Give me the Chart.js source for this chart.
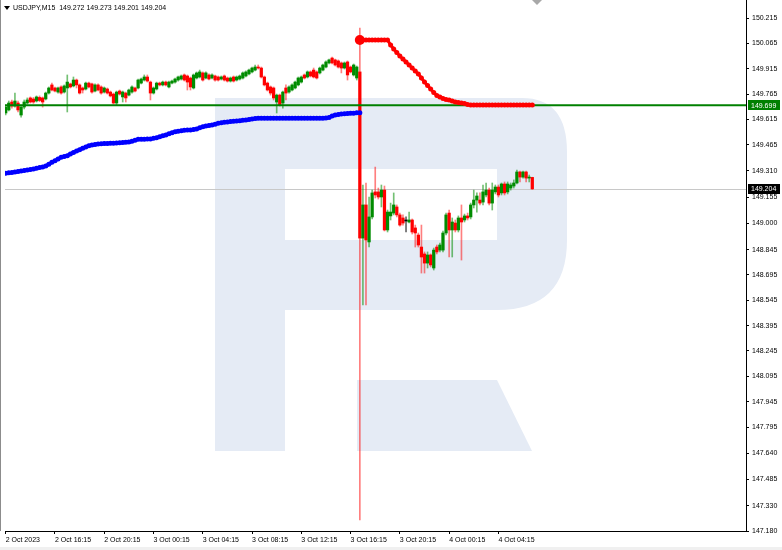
<!DOCTYPE html>
<html>
<head>
<meta charset="utf-8">
<title>USDJPY M15</title>
<script src="https://cdn.jsdelivr.net/npm/chart.js@4.4.1/dist/chart.umd.min.js"></script>
<style>
  html, body { margin: 0; padding: 0; background: #fff; }
  #wrap { position: relative; width: 782px; height: 550px; }
</style>
</head>
<body>
<div id="wrap"><canvas id="chartCanvas" width="782" height="550"></canvas></div>
<script>
const symbolTitle = 'USDJPY,M15';
const lastBarText = '149.272 149.273 149.201 149.204';

// M15 bars, index 0 = 2 Oct 12:15
const opens = [
  149.653,149.671,149.718,149.694,149.712,149.641,149.688,149.712,149.742,149.736,
  149.724,149.745,149.742,149.736,149.771,149.819,149.801,149.777,149.807,149.777,
  149.801,149.825,149.813,149.848,149.819,149.801,149.795,149.830,149.825,149.783,
  149.819,149.807,149.777,149.795,149.777,149.765,149.712,149.783,149.748,149.771,
  149.759,149.777,149.801,149.801,149.830,149.848,149.866,149.836,149.771,149.795,
  149.830,149.819,149.836,149.807,149.830,149.836,149.848,149.854,149.878,149.872,
  149.860,149.801,149.860,149.866,149.890,149.860,149.878,149.860,149.872,149.866,
  149.854,149.872,149.860,149.842,149.866,149.848,149.854,149.860,149.872,149.884,
  149.896,149.907,149.925,149.919,149.866,149.830,149.807,149.801,149.718,149.759,
  149.712,149.801,149.777,149.789,149.801,149.819,149.836,149.878,149.866,149.896,
  149.907,149.896,149.890,149.907,149.925,149.949,149.978,149.967,149.961,149.949,
  149.919,149.955,149.925,149.878,149.860,149.896,
  148.913,149.109,148.890,149.038,149.186,149.186,149.156,149.197,148.961,149.044,
  149.061,149.097,149.050,149.032,149.014,149.008,149.020,148.973,148.931,148.860,
  148.819,148.765,148.813,148.736,148.860,148.842,148.842,148.943,149.061,148.961,
  149.002,148.961,149.032,149.020,149.044,149.038,149.109,149.138,149.138,149.126,
  149.168,149.197,149.120,149.186,149.215,149.180,149.233,149.186,149.209,149.221,
  149.239,149.304,149.274,149.304,149.268,149.272
];
const highs = [
  149.700,149.724,149.730,149.771,149.724,149.700,149.730,149.742,149.748,149.745,
  149.754,149.754,149.748,149.777,149.807,149.830,149.807,149.807,149.813,149.819,
  149.878,149.830,149.866,149.854,149.825,149.807,149.836,149.836,149.830,149.825,
  149.825,149.813,149.807,149.801,149.783,149.771,149.783,149.789,149.783,149.777,
  149.795,149.813,149.807,149.854,149.860,149.878,149.878,149.842,149.807,149.836,
  149.836,149.842,149.842,149.842,149.848,149.860,149.872,149.878,149.884,149.878,
  149.866,149.884,149.896,149.907,149.896,149.896,149.884,149.884,149.878,149.872,
  149.872,149.878,149.866,149.866,149.872,149.872,149.878,149.896,149.902,149.913,
  149.925,149.937,149.937,149.925,149.872,149.836,149.813,149.807,149.765,149.765,
  149.783,149.819,149.813,149.825,149.842,149.866,149.872,149.884,149.902,149.902,
  149.919,149.902,149.925,149.943,149.961,149.972,149.984,149.972,149.967,149.955,
  149.955,149.961,149.931,149.943,149.931,150.156,
  149.227,149.239,149.156,149.197,149.333,149.209,149.227,149.221,149.079,149.120,
  149.180,149.109,149.061,149.050,149.038,149.067,149.026,148.990,148.943,148.990,
  148.831,148.831,148.819,148.854,148.872,148.884,148.955,149.061,149.079,149.032,
  149.020,149.044,149.109,149.055,149.061,149.120,149.197,149.180,149.180,149.227,
  149.239,149.209,149.239,149.227,149.227,149.239,149.245,149.245,149.239,149.257,
  149.316,149.310,149.310,149.310,149.286,149.273
];
const lows = [
  149.641,149.665,149.682,149.688,149.659,149.629,149.677,149.706,149.712,149.710,
  149.718,149.720,149.688,149.730,149.765,149.783,149.777,149.771,149.765,149.771,
  149.659,149.801,149.807,149.801,149.765,149.771,149.789,149.801,149.771,149.777,
  149.783,149.765,149.771,149.765,149.748,149.706,149.700,149.759,149.718,149.718,
  149.754,149.771,149.777,149.795,149.825,149.842,149.836,149.730,149.765,149.789,
  149.813,149.813,149.813,149.801,149.825,149.830,149.842,149.848,149.842,149.789,
  149.789,149.795,149.854,149.860,149.842,149.854,149.848,149.854,149.842,149.842,
  149.848,149.842,149.836,149.836,149.836,149.842,149.848,149.854,149.866,149.878,
  149.890,149.902,149.913,149.860,149.813,149.783,149.759,149.730,149.653,149.694,
  149.682,149.730,149.771,149.783,149.795,149.813,149.830,149.854,149.860,149.866,
  149.860,149.854,149.884,149.902,149.919,149.943,149.943,149.931,149.919,149.890,
  149.913,149.848,149.890,149.872,149.848,147.245,
  148.517,148.517,148.860,149.026,149.150,149.144,149.097,148.955,148.949,149.020,
  149.050,149.038,148.984,148.990,148.949,149.002,148.937,148.860,148.860,148.706,
  148.706,148.736,148.742,148.724,148.819,148.831,148.831,148.931,148.801,148.801,
  148.949,148.949,148.783,149.008,149.020,149.026,149.091,149.067,149.109,149.109,
  149.156,149.109,149.079,149.174,149.156,149.168,149.168,149.174,149.197,149.209,
  149.233,149.245,149.268,149.245,149.245,149.201
];
const closes = [
  149.688,149.712,149.694,149.724,149.671,149.688,149.718,149.730,149.718,149.718,
  149.748,149.727,149.718,149.771,149.801,149.789,149.783,149.801,149.771,149.813,
  149.836,149.807,149.848,149.819,149.771,149.789,149.830,149.807,149.777,149.819,
  149.789,149.771,149.801,149.771,149.754,149.712,149.777,149.765,149.777,149.742,
  149.789,149.807,149.783,149.848,149.854,149.866,149.842,149.771,149.801,149.830,
  149.819,149.836,149.819,149.836,149.842,149.854,149.866,149.872,149.848,149.836,
  149.807,149.878,149.890,149.896,149.848,149.890,149.854,149.878,149.848,149.848,
  149.866,149.848,149.842,149.860,149.842,149.866,149.872,149.890,149.896,149.907,
  149.919,149.925,149.919,149.866,149.819,149.789,149.771,149.742,149.759,149.700,
  149.777,149.771,149.807,149.819,149.836,149.860,149.866,149.860,149.896,149.872,
  149.866,149.860,149.919,149.937,149.955,149.967,149.949,149.937,149.925,149.919,
  149.949,149.878,149.896,149.937,149.925,148.913,
  149.109,148.902,149.038,149.180,149.168,149.156,149.197,148.961,149.067,149.067,
  149.109,149.050,148.990,149.002,149.014,149.020,148.949,148.943,148.872,148.801,
  148.765,148.813,148.754,148.842,148.831,148.872,148.943,149.050,148.961,149.008,
  148.961,149.032,149.008,149.044,149.032,149.109,149.138,149.162,149.120,149.186,
  149.197,149.120,149.197,149.215,149.168,149.233,149.180,149.233,149.227,149.239,
  149.304,149.274,149.304,149.268,149.274,149.204
];

// blue indicator, bars 0..115
const blueLine = [
  149.296,149.299,149.301,149.304,149.307,149.310,149.313,149.316,149.319,149.322,
  149.326,149.330,149.334,149.339,149.350,149.361,149.371,149.381,149.391,149.396,
  149.400,149.410,149.420,149.428,149.436,149.444,149.452,149.459,149.464,149.467,
  149.470,149.471,149.472,149.473,149.474,149.474,149.475,149.477,149.478,149.480,
  149.481,149.486,149.492,149.497,149.498,149.498,149.499,149.499,149.503,149.507,
  149.512,149.518,149.523,149.530,149.536,149.542,149.545,149.548,149.551,149.552,
  149.552,149.555,149.558,149.565,149.572,149.576,149.579,149.582,149.587,149.592,
  149.596,149.598,149.600,149.602,149.604,149.606,149.607,149.610,149.612,149.615,
  149.617,149.620,149.622,149.622,149.622,149.622,149.622,149.622,149.622,149.622,
  149.622,149.622,149.622,149.622,149.622,149.622,149.622,149.622,149.622,149.622,
  149.622,149.622,149.622,149.622,149.624,149.627,149.635,149.641,149.644,149.647,
  149.648,149.650,149.651,149.652,149.654,149.655
];

// red indicator, starts at bar 115
const redStart = 115;
const redLine = [
  150.085,150.085,150.085,150.085,150.085,150.085,150.085,150.085,150.085,150.085,
  150.055,150.032,150.011,149.990,149.972,149.955,149.937,149.919,149.901,149.884,
  149.860,149.836,149.816,149.795,149.774,149.756,149.748,149.739,149.733,149.730,
  149.724,149.718,149.715,149.712,149.709,149.703,
  149.700,149.700,149.700,149.700,149.700,149.700,149.700,149.700,149.700,149.700,
  149.700,149.700,149.700,149.700,149.700,149.700,149.700,149.700,149.700,149.700,
  149.700
];

const levelPrice = 149.699;
const lastPrice = 149.204;

const tickBars = [0, 16, 32, 48, 64, 80, 96, 112, 128, 144, 160];
const tickLabels = ['2 Oct 2023', '2 Oct 16:15', '2 Oct 20:15', '3 Oct 00:15', '3 Oct 04:15',
  '3 Oct 08:15', '3 Oct 12:15', '3 Oct 16:15', '3 Oct 20:15', '4 Oct 00:15', '4 Oct 04:15'];
const priceTicks = [150.215, 150.065, 149.915, 149.765, 149.615, 149.465, 149.310, 149.155,
  149.000, 148.845, 148.695, 148.545, 148.395, 148.245, 148.095, 147.945, 147.795,
  147.640, 147.485, 147.330, 147.180];

const font7 = { family: 'Liberation Sans', size: 7 };
const bullColor = '#008c00', bearColor = '#ff0000';

function barColor(i, alpha) {
  const c = closes[i], o = opens[i];
  if (c > o) return alpha ? 'rgba(0,140,0,0.55)' : bullColor;
  if (c < o) return alpha ? 'rgba(255,0,0,0.5)' : bearColor;
  return alpha ? 'rgba(0,0,0,0.6)' : '#000';
}

const wickData = opens.map((o, i) => ({ x: i, y: [lows[i], highs[i]] }));
const bodyData = opens.map((o, i) => ({ x: i, y: [o, closes[i]] }));
const blueData = blueLine.map((v, i) => ({ x: i, y: v }));
const redData = redLine.map((v, k) => ({ x: redStart + k, y: v }));

const mtDecor = {
  id: 'mtDecor',
  afterLayout(chart) {
    // plot runs from the very top of the canvas, like the terminal window
    const a = chart.chartArea, ys = chart.scales.y;
    if (a.top !== 0) {
      a.top = 0;
      a.height = a.bottom;
      ys.top = 0;
      ys.height = ys.bottom;
      ys.configure();
    }
  },
  beforeDatasetsDraw(chart) {
    const ctx = chart.ctx, area = chart.chartArea, ys = chart.scales.y;
    ctx.save();
    // watermark logo
    ctx.fillStyle = '#e5ebf5';
    ctx.beginPath();
    ctx.rect(215, 98, 70, 353);
    ctx.fill();
    ctx.beginPath();
    ctx.moveTo(285, 98);
    ctx.lineTo(522, 98);
    ctx.quadraticCurveTo(567, 98, 567, 152);
    ctx.lineTo(567, 240);
    ctx.quadraticCurveTo(567, 310, 497, 310);
    ctx.lineTo(285, 310);
    ctx.closePath();
    ctx.moveTo(285, 169);
    ctx.lineTo(497, 169);
    ctx.lineTo(497, 240);
    ctx.lineTo(285, 240);
    ctx.closePath();
    ctx.fill('evenodd');
    ctx.beginPath();
    ctx.moveTo(357, 380);
    ctx.lineTo(497, 380);
    ctx.lineTo(532, 451);
    ctx.lineTo(357, 451);
    ctx.closePath();
    ctx.fill();
    // current price line
    const py = Math.round(ys.getPixelForValue(lastPrice)) + 0.5;
    ctx.strokeStyle = '#c8c8c8';
    ctx.lineWidth = 1;
    ctx.beginPath();
    ctx.moveTo(area.left, py);
    ctx.lineTo(area.right, py);
    ctx.stroke();
    ctx.restore();
  },
  afterDatasetDraw(chart, args) {
    if (chart.data.datasets[args.index].label !== 'bodies') return;
    const ctx = chart.ctx, area = chart.chartArea, ys = chart.scales.y;
    const gy = ys.getPixelForValue(levelPrice);
    ctx.save();
    ctx.strokeStyle = '#008000';
    ctx.lineWidth = 2;
    ctx.beginPath();
    ctx.moveTo(area.left, gy);
    ctx.lineTo(area.right, gy);
    ctx.stroke();
    ctx.restore();
  },
  afterDraw(chart) {
    const ctx = chart.ctx, area = chart.chartArea, ys = chart.scales.y;
    ctx.save();
    // left border
    ctx.fillStyle = '#8c8c8c';
    ctx.fillRect(0, 0, 1, area.bottom);
    // header
    ctx.fillStyle = '#000';
    ctx.beginPath();
    ctx.moveTo(4, 6); ctx.lineTo(10, 6); ctx.lineTo(7, 10); ctx.closePath();
    ctx.fill();
    ctx.font = '7px "Liberation Sans"';
    ctx.textBaseline = 'middle';
    ctx.textAlign = 'left';
    ctx.fillText(symbolTitle + '  ' + lastBarText, 13, 8.5);
    // chart shift marker
    ctx.fillStyle = '#a8a8a8';
    ctx.beginPath();
    ctx.moveTo(532, 0); ctx.lineTo(542, 0); ctx.lineTo(537, 5); ctx.closePath();
    ctx.fill();
    // price boxes on the axis
    const boxes = [[levelPrice, '#008000'], [lastPrice, '#000000']];
    boxes.forEach(([p, col]) => {
      const by = ys.getPixelForValue(p);
      ctx.fillStyle = col;
      ctx.fillRect(area.right + 2, Math.round(by) - 5, 32, 10);
      ctx.fillStyle = '#fff';
      ctx.fillText(p.toFixed(3), area.right + 5, by + 0.5);
    });
    // status strip
    ctx.fillStyle = '#f0f0f0';
    ctx.fillRect(0, 547, 782, 3);
    ctx.restore();
  }
};

const ctx = document.getElementById('chartCanvas').getContext('2d');
const chartInstance = new Chart(ctx, {
  type: 'bar',
  data: {
    datasets: [
      {
        label: 'red',
        type: 'line',
        data: redData,
        borderColor: '#ff0000',
        backgroundColor: '#ff0000',
        borderWidth: 3,
        pointRadius: redData.map((d, k) => (k === 0 ? 5 : 2.5)),
        pointBorderWidth: 0,
        order: 1
      },
      {
        label: 'blue',
        type: 'line',
        data: blueData,
        borderColor: '#0000ff',
        backgroundColor: '#0000ff',
        borderWidth: 3.5,
        pointRadius: 2.5,
        pointBorderWidth: 0,
        order: 2
      },
      {
        label: 'bodies',
        data: bodyData,
        backgroundColor: opens.map((o, i) => barColor(i, false)),
        barThickness: 2.6,
        minBarLength: 1,
        grouped: false,
        order: 3
      },
      {
        label: 'wicks',
        data: wickData,
        backgroundColor: opens.map((o, i) => barColor(i, true)),
        barThickness: 1,
        grouped: false,
        order: 4
      }
    ]
  },
  options: {
    responsive: false,
    animation: false,
    events: [],
    layout: { padding: { left: 1, top: 0, right: 0, bottom: 0 } },
    plugins: { legend: { display: false }, tooltip: { enabled: false } },
    scales: {
      x: {
        type: 'linear',
        min: -0.226,
        max: 240.4,
        offset: false,
        afterFit: s => { s.height = 19; s.paddingLeft = 0; s.paddingRight = 0; },
        afterBuildTicks: s => { s.ticks = tickBars.map(v => ({ value: v })); },
        ticks: {
          callback: v => tickLabels[tickBars.indexOf(v)],
          align: 'start',
          autoSkip: false,
          maxRotation: 0,
          padding: 2,
          font: font7,
          color: '#000'
        },
        grid: { drawOnChartArea: false, offset: false, tickLength: 3, color: '#000' },
        border: { color: '#000' }
      },
      y: {
        position: 'right',
        min: 147.180,
        max: 150.3215,
        afterFit: s => { s.width = 36; s.paddingTop = 0; s.paddingBottom = 0; },
        afterBuildTicks: s => { s.ticks = priceTicks.map(v => ({ value: v })); },
        ticks: {
          callback: v => v.toFixed(3),
          autoSkip: false,
          padding: 3,
          font: font7,
          color: '#000'
        },
        grid: { drawOnChartArea: false, tickLength: 3, color: '#000' },
        border: { color: '#000' }
      }
    }
  },
  plugins: [mtDecor]
});
</script>
</body>
</html>
